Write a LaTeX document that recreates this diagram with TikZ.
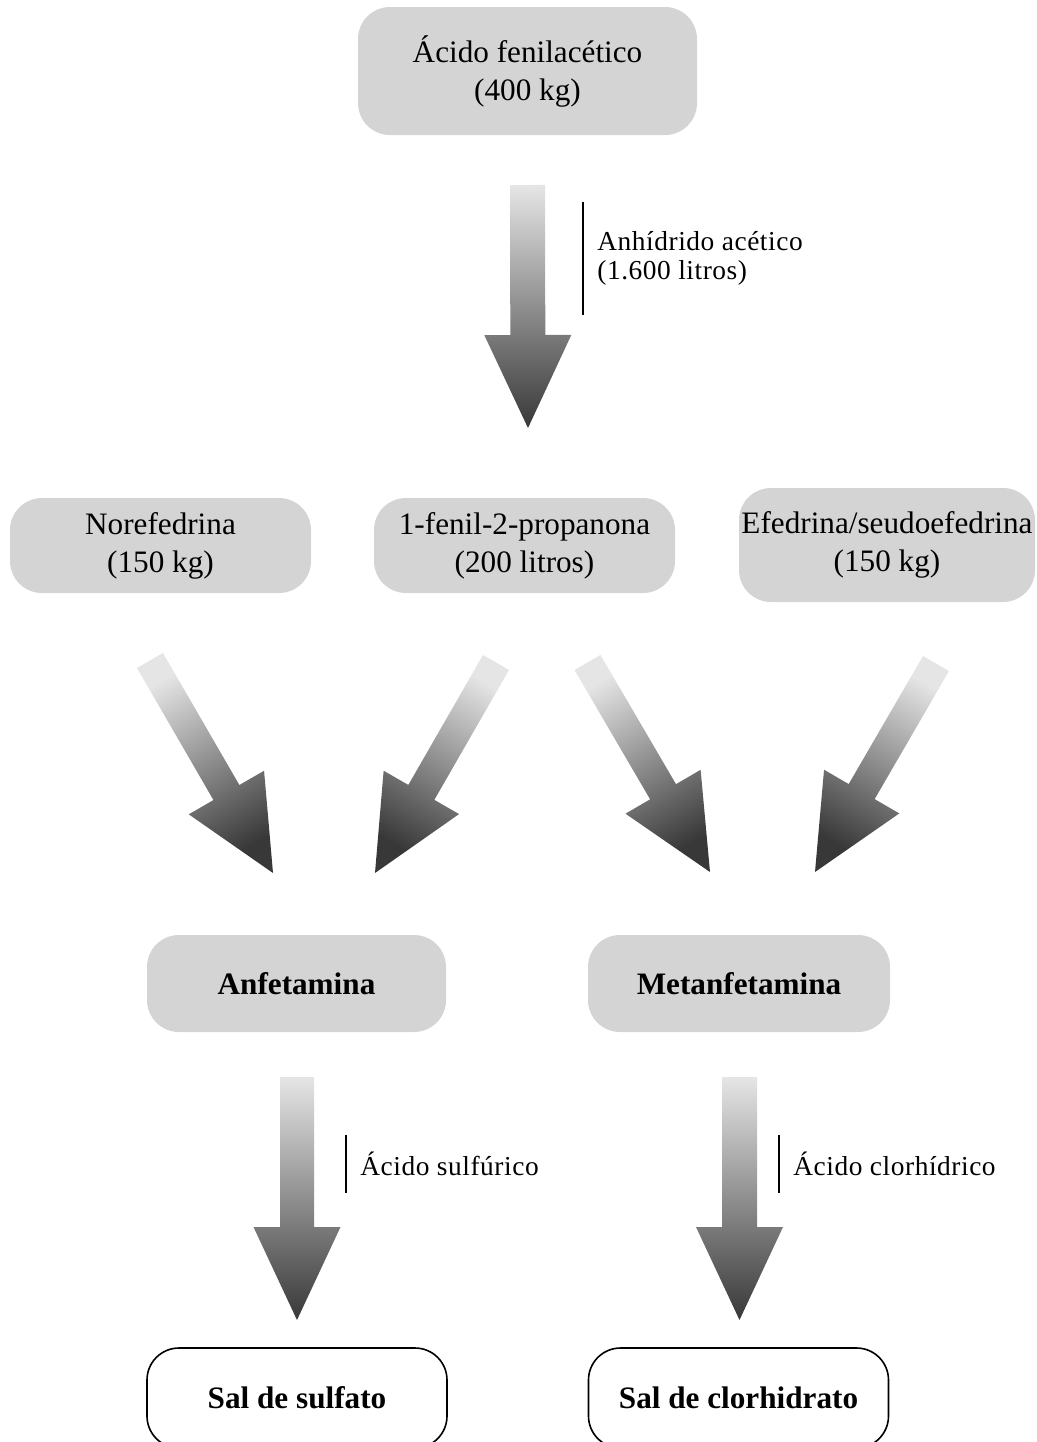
\documentclass[tikz,border=0pt]{standalone}
\usepackage{fontspec}
\setmainfont{Liberation Serif}
\newfontfamily\reagentfont[LetterSpace=2]{Liberation Serif}
\usetikzlibrary{calc}
\definecolor{boxgray}{RGB}{212,212,212}
\newcommand{\flowarrow}[4]{%
  \coordinate (hb) at ($(#2)!46.5pt!(#1)$);
  \shade[arrowfill, shading angle=#3]
    ($(#1)!#4!90:(#2)$) -- ($(hb)!#4!90:(#2)$) -- ($(hb)!21.75pt!90:(#2)$) -- (#2)
    -- ($(hb)!21.75pt!-90:(#2)$) -- ($(hb)!#4!-90:(#2)$) -- ($(#1)!#4!-90:(#2)$) -- cycle;
}

\begin{document}
\begin{tikzpicture}[
            x=0.5pt, y=-0.5pt,
            box/.style={rectangle, fill=boxgray, rounded corners=16pt, align=center, inner xsep=1pt, font=\fontsize{15.6}{19}\selectfont},
            salt/.style={rectangle, draw=black, line width=0.8pt, fill=white, rounded corners=16pt, align=center, inner xsep=1pt, minimum width=150pt, minimum height=50pt, font=\fontsize{15.6}{19}\selectfont\bfseries},
            reagent/.style={anchor=west, align=left, inner xsep=7pt, font=\reagentfont\fontsize{13.7}{14.8}\selectfont},
            arrowfill/.style={top color=black!10, bottom color=black!78}
        ]
            \useasboundingbox (0,0) rectangle (1037,1442);
            \node[box, minimum width=169.5pt, minimum height=64pt] (fenil) at (527.5,71) {Ácido fenilacético\\(400 kg)};
            \node[box, minimum width=150.5pt, minimum height=47.5pt] (nore) at (160.5,545.5) {Norefedrina\\(150 kg)};
            \node[box, minimum width=150.5pt, minimum height=47.5pt] (prop) at (524.5,545.5) {1-fenil-2-propanona\\(200 litros)};
            \node[box, minimum width=148pt, minimum height=57pt] (efed) at (887,545) {Efedrina/seudoefedrina\\(150 kg)};
            \node[box, minimum width=149.5pt, minimum height=48.5pt, font=\fontsize{15.6}{19}\selectfont\bfseries] (anf) at (296.5,983.5) {Anfetamina};
            \node[box, minimum width=151pt, minimum height=48.5pt, font=\fontsize{15.6}{19}\selectfont\bfseries] (met) at (739,983.5) {Metanfetamina};
            \node[salt] (sulf) at (297,1398) {Sal de sulfato};
            \node[salt] (clor) at (738.5,1398) {Sal de clorhidrato};

            \coordinate (fenilout) at (527.5,185);
            \coordinate (propin) at (528,428);
            \coordinate (noreout) at (150,660.5);
            \coordinate (propoutl) at (496,662.5);
            \coordinate (propoutr) at (587.5,662.5);
            \coordinate (efedout) at (936,663.5);
            \coordinate (anfinl) at (273,873);
            \coordinate (anfinr) at (375,873);
            \coordinate (metinl) at (710,872);
            \coordinate (metinr) at (815,872);
            \coordinate (anfout) at (297,1077);
            \coordinate (metout) at (739.5,1077);
            \coordinate (sulfin) at (297,1320);
            \coordinate (clorin) at (739.5,1320);

            \flowarrow{fenilout}{propin}{0}{8.75pt}
            \flowarrow{noreout}{anfinl}{30}{7.5pt}
            \flowarrow{propoutl}{anfinr}{-30}{7.5pt}
            \flowarrow{propoutr}{metinl}{30}{7.5pt}
            \flowarrow{efedout}{metinr}{-30}{7.5pt}
            \flowarrow{anfout}{sulfin}{0}{8.5pt}
            \flowarrow{metout}{clorin}{0}{8.75pt}

            \node[reagent, minimum height=56.5pt] (anh) at (583,258.5) {Anhídrido acético\\(1.600 litros)};
            \node[reagent, minimum height=29pt] (sulfu) at (346,1164) {Ácido sulfúrico};
            \node[reagent, minimum height=29pt] (clorh) at (779,1164) {Ácido clorhídrico};
            \draw[line width=0.8pt] (anh.north west) -- (anh.south west);
            \draw[line width=0.8pt] (sulfu.north west) -- (sulfu.south west);
            \draw[line width=0.8pt] (clorh.north west) -- (clorh.south west);
        \end{tikzpicture}
\end{document}
